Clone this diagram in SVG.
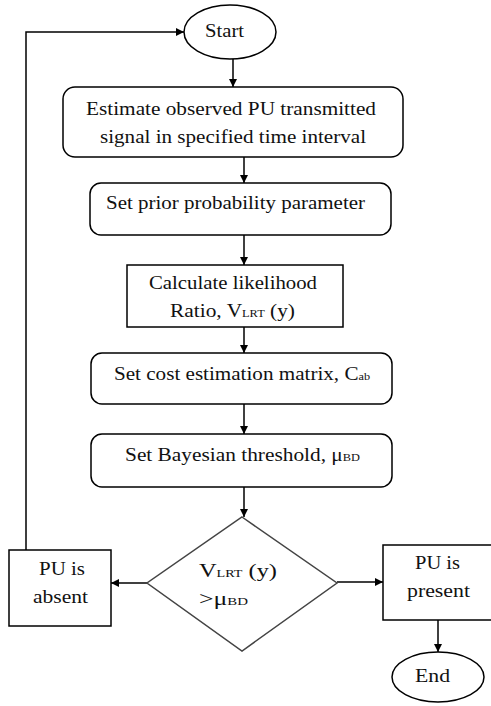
<svg xmlns="http://www.w3.org/2000/svg" width="491" height="706" viewBox="0 0 491 706">
<style>
.s{fill:#fff;stroke:#000;stroke-width:1.5}
.d{fill:#fff;stroke:#444;stroke-width:1.5}
.c{fill:none;stroke:#000;stroke-width:1.5}
text{font-family:"Liberation Serif","Times New Roman",serif;font-size:19px;fill:#111}
.sub{font-size:11px}
</style>
<defs>
<marker id="ah" viewBox="0 0 10 10" refX="10" refY="5" markerWidth="8" markerHeight="8" markerUnits="userSpaceOnUse" orient="auto">
<path d="M0,0 L10,5 L0,10 z" fill="#000"/>
</marker>
</defs>
<g id="connectors">
<path class="c" d="M233,59 V87" marker-end="url(#ah)"/>
<path class="c" d="M244,157 V183" marker-end="url(#ah)"/>
<path class="c" d="M244,235 V265" marker-end="url(#ah)"/>
<path class="c" d="M244,327 V353" marker-end="url(#ah)"/>
<path class="c" d="M244,404 V434" marker-end="url(#ah)"/>
<path class="c" d="M244,487 V517" marker-end="url(#ah)"/>
<path class="c" d="M147,583 H111" marker-end="url(#ah)"/>
<path class="c" d="M337,582 H383" marker-end="url(#ah)"/>
<path class="c" d="M438,620 V652" marker-end="url(#ah)"/>
<path class="c" d="M26,550 V32 H184" marker-end="url(#ah)"/>
</g>
<g id="start">
<ellipse class="s" cx="230" cy="32" rx="46" ry="27"/>
<text x="205" y="37" textLength="39" lengthAdjust="spacingAndGlyphs">Start</text>
</g>
<g id="estimate">
<rect class="s" x="63" y="87" width="340" height="70" rx="12"/>
<text x="86" y="115" textLength="290" lengthAdjust="spacingAndGlyphs">Estimate observed PU transmitted</text>
<text x="100" y="143" textLength="266" lengthAdjust="spacingAndGlyphs">signal in specified time interval</text>
</g>
<g id="prior">
<rect class="s" x="90" y="183" width="301" height="52" rx="11"/>
<text x="106" y="209" textLength="259" lengthAdjust="spacingAndGlyphs">Set prior probability parameter</text>
</g>
<g id="likelihood">
<rect class="s" x="127" y="265" width="216" height="62"/>
<text x="149" y="289" textLength="168" lengthAdjust="spacingAndGlyphs">Calculate likelihood</text>
<text x="170" y="317" textLength="125" lengthAdjust="spacingAndGlyphs">Ratio, V<tspan class="sub">LRT</tspan> (y)</text>
</g>
<g id="cost">
<rect class="s" x="91" y="353" width="301" height="51" rx="11"/>
<text x="114" y="380" textLength="256" lengthAdjust="spacingAndGlyphs">Set cost estimation matrix, C<tspan class="sub">ab</tspan></text>
</g>
<g id="bayes">
<rect class="s" x="91" y="434" width="301" height="53" rx="11"/>
<text x="125" y="461" textLength="235" lengthAdjust="spacingAndGlyphs">Set Bayesian threshold, μ<tspan class="sub">BD</tspan></text>
</g>
<g id="decision">
<polygon class="d" points="242,517 337,583 242,651 147,583"/>
<text x="199" y="577" textLength="78" lengthAdjust="spacingAndGlyphs">V<tspan class="sub">LRT</tspan> (y)</text>
<text x="199" y="605" textLength="49" lengthAdjust="spacingAndGlyphs">&gt;μ<tspan class="sub">BD</tspan></text>
</g>
<g id="absent">
<rect class="s" x="9" y="550" width="102" height="76"/>
<text x="39" y="575" textLength="46" lengthAdjust="spacingAndGlyphs">PU is</text>
<text x="33" y="603" textLength="55" lengthAdjust="spacingAndGlyphs">absent</text>
</g>
<g id="present">
<rect class="s" x="383" y="545" width="112" height="75"/>
<text x="415" y="569" textLength="45" lengthAdjust="spacingAndGlyphs">PU is</text>
<text x="407" y="597" textLength="63" lengthAdjust="spacingAndGlyphs">present</text>
</g>
<g id="end">
<ellipse class="s" cx="438" cy="677" rx="46" ry="25"/>
<text x="415" y="682" textLength="35" lengthAdjust="spacingAndGlyphs">End</text>
</g>
</svg>
